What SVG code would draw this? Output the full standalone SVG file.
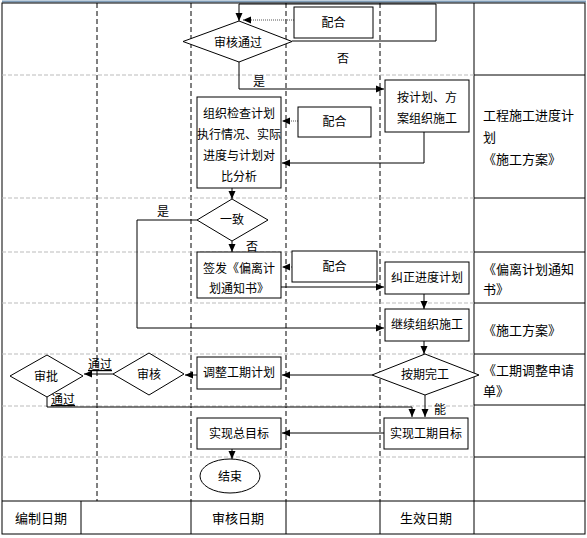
<svg xmlns="http://www.w3.org/2000/svg" width="587" height="538" viewBox="0 0 587 538">
<defs>
<marker id="ah" markerUnits="userSpaceOnUse" markerWidth="8" markerHeight="8" refX="8" refY="4" orient="auto">
<path d="M0,0.5 L8,4 L0,7.5 z" fill="#000"/>
</marker>
<style>
text{font-family:"Noto Sans CJK SC","Liberation Sans",sans-serif;fill:#000;}
.t{font-size:12px;text-anchor:middle;}
.r{font-size:13px;}
.b{font-size:13px;text-anchor:middle;}
.box{fill:#fff;stroke:#000;stroke-width:1;}
.lane{stroke:#000;stroke-width:1;stroke-dasharray:5,3;fill:none;}
.row{stroke:#bbb;stroke-width:1;stroke-dasharray:4,2;fill:none;}
.sol{stroke:#000;stroke-width:1;fill:none;}
.c{stroke:#000;stroke-width:1;fill:none;marker-end:url(#ah);}
.d{stroke:#555;stroke-width:1;stroke-dasharray:1,1;fill:none;marker-end:url(#ah);}
</style>
</defs>
<rect width="587" height="538" fill="#fff"/>
<g id="grid">
<line x1="2" y1="1.5" x2="586" y2="1.5" stroke="#7f9db9" stroke-width="2"/>
<rect x="2" y="3" width="583" height="531" class="sol"/>
<line x1="97" y1="3" x2="97" y2="501" class="lane"/>
<line x1="191" y1="3" x2="191" y2="501" class="lane"/>
<line x1="286" y1="3" x2="286" y2="501" class="lane"/>
<line x1="380" y1="3" x2="380" y2="501" class="lane"/>
<line x1="474" y1="3" x2="474" y2="534" class="sol"/>
<path class="row" d="M2,75H474M2,198H474M2,252H474M2,303H474M2,354H474M2,406H474M2,457H474"/>
<path class="sol" d="M474,75H585M474,198H585M474,252H585M474,303H585M474,354H585M474,405H585M474,457H585"/>
<path class="sol" d="M2,501H585M81,501V534M191,501V534M286,501V534M380,501V534"/>
</g>
<g id="connectors">
<path class="c" d="M292,41H436V4H239V21"/>
<path class="d" d="M294,20H243"/>
<path class="c" d="M239,62V89H384"/>
<path class="c" d="M424,132V163H282"/>
<path class="d" d="M298,121H282"/>
<path class="c" d="M232,188V199"/>
<path class="c" d="M197,220H137V328H384"/>
<path class="c" d="M232,241V252"/>
<path class="d" d="M292,267H282"/>
<path class="c" d="M281,287H384"/>
<path class="c" d="M424,294V309"/>
<path class="c" d="M424,341V354"/>
<path class="c" d="M372,375H282"/>
<path class="c" d="M197,375H185"/>
<path class="c" d="M113,374H84"/>
<path class="c" d="M47,397V407H412V417"/>
<path class="c" d="M425,395V417"/>
<path class="c" d="M384,433H282"/>
<path class="c" d="M232,449V459"/>
<text class="t" x="343" y="63">否</text>
<text class="t" x="259" y="86">是</text>
<text class="t" x="163" y="216">是</text>
<text class="t" x="252" y="251">否</text>
<text class="t" x="100" y="369" text-decoration="underline">通过</text>
<text class="t" x="63" y="404" text-decoration="underline">通过</text>
<text class="t" x="440" y="414">能</text>
</g>
<g id="n-shenhetongguo">
<polygon class="box" points="183,41.5 239,21 292,41.5 239,62"/>
<text class="t" x="238" y="47">审核通过</text>
</g>
<g id="n-peihe1">
<rect class="box" x="294" y="7" width="79" height="31"/>
<text class="t" x="333.5" y="27">配合</text>
</g>
<g id="n-anjihua">
<rect class="box" x="385" y="80" width="84" height="52"/>
<text class="t" x="427" y="102">按计划、方</text>
<text class="t" x="427" y="123">案组织施工</text>
</g>
<g id="n-zuzhijiancha">
<rect class="box" x="197" y="97" width="84" height="91"/>
<text class="t" x="239" y="118">组织检查计划</text>
<text class="t" x="239" y="139">执行情况、实际</text>
<text class="t" x="239" y="160">进度与计划对</text>
<text class="t" x="239" y="181">比分析</text>
</g>
<g id="n-peihe2">
<rect class="box" x="298" y="107" width="73" height="30"/>
<text class="t" x="334.5" y="126">配合</text>
</g>
<g id="n-yizhi">
<polygon class="box" points="197,220 232,199 268,220 232,241"/>
<text class="t" x="232" y="224">一致</text>
</g>
<g id="n-qianfa">
<rect class="box" x="197" y="252" width="84" height="46"/>
<text class="t" x="239" y="273">签发《偏离计</text>
<text class="t" x="239" y="293">划通知书》</text>
</g>
<g id="n-peihe3">
<rect class="box" x="292" y="251" width="85" height="31"/>
<text class="t" x="334.5" y="271">配合</text>
</g>
<g id="n-jiuzheng">
<rect class="box" x="385" y="262" width="84" height="32"/>
<text class="t" x="427" y="282">纠正进度计划</text>
</g>
<g id="n-jixu">
<rect class="box" x="385" y="309" width="84" height="32"/>
<text class="t" x="427" y="329">继续组织施工</text>
</g>
<g id="n-anqiwangong">
<polygon class="box" points="372,375 425,354 479,375 425,395"/>
<text class="t" x="425" y="379">按期完工</text>
</g>
<g id="n-tiaozheng">
<rect class="box" x="197" y="357" width="84" height="32"/>
<text class="t" x="239" y="377">调整工期计划</text>
</g>
<g id="n-shenhe">
<polygon class="box" points="113,374 149,353 184,374 149,395"/>
<text class="t" x="149" y="379">审核</text>
</g>
<g id="n-shenpi">
<polygon class="box" points="10,376 47,355 83,376 47,397"/>
<text class="t" x="46" y="381">审批</text>
</g>
<g id="n-shixiangongqi">
<rect class="box" x="384" y="418" width="84" height="31"/>
<text class="t" x="426" y="438">实现工期目标</text>
</g>
<g id="n-shixianzong">
<rect class="box" x="197" y="418" width="84" height="31"/>
<text class="t" x="239" y="438">实现总目标</text>
</g>
<g id="n-jieshu">
<ellipse class="box" cx="230" cy="476" rx="30" ry="17"/>
<text class="t" x="230" y="481">结束</text>
</g>
<g id="notes">
<text class="r" x="483" y="120">工程施工进度计</text>
<text class="r" x="483" y="142">划</text>
<text class="r" x="483" y="164">《施工方案》</text>
<text class="r" x="483" y="274">《偏离计划通知</text>
<text class="r" x="483" y="294">书》</text>
<text class="r" x="483" y="335">《施工方案》</text>
<text class="r" x="483" y="375">《工期调整申请</text>
<text class="r" x="483" y="396">单》</text>
<text class="b" x="41" y="523">编制日期</text>
<text class="b" x="238" y="523">审核日期</text>
<text class="b" x="426" y="523">生效日期</text>
</g>
</svg>
